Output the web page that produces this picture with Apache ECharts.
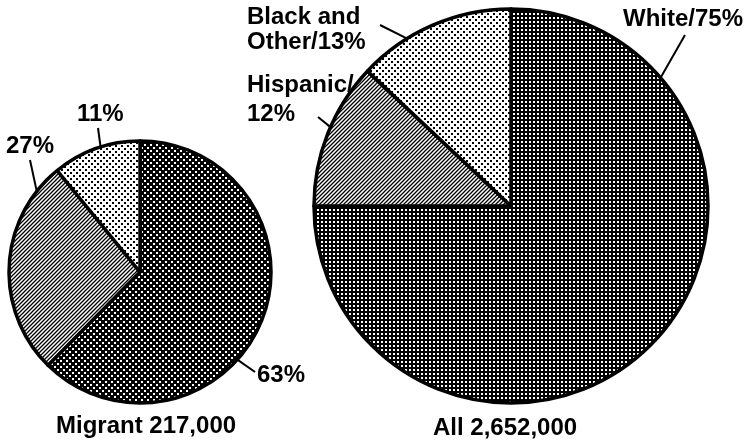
<!DOCTYPE html>
<html><head><meta charset="utf-8">
<script src="https://cdn.jsdelivr.net/npm/echarts@6/dist/echarts.min.js"></script>
<style>html,body{margin:0;padding:0;background:#fff}#c{width:748px;height:444px}</style>
</head><body><div id="c"></div>
<script>
// ---- data ----
const categories = ['White', 'Hispanic', 'Black and Other'];
const migrantValues = [63, 27, 11];
const allValues = [75, 12, 13];
const migrantLabels = ['63%', '27%', '11%'];
const allLabels = ['White/75%', 'Hispanic/\n12%', 'Black and\nOther/13%'];
const pieTitles = ['Migrant 217,000', 'All 2,652,000'];

// ---- layout ----
const PIES = [
  { cx: 140, cy: 272, r: 131 },
  { cx: 511, cy: 206, r: 197 }
];
// label left edge x, vertical middle y, line height, leader (arc angle clockwise from 12 o'clock, outer end offset)
const LABEL_POS = [
  [
    { x: 257, y: 375, lh: 24, angle: 132, dx: -2, dy: -3 },
    { x: 6, y: 146.5, lh: 24, angle: 308, dx: 24, dy: 13.5 },
    { x: 77, y: 114, lh: 24, angle: 342.5, dx: 21, dy: 14 }
  ],
  [
    { x: 623, y: 19, lh: 24, angle: 49.4, dx: 62, dy: 16 },
    { x: 247, y: 100, lh: 29.5, angle: 293.6, dx: 71, dy: 17 },
    { x: 247, y: 30, lh: 24.5, angle: 328.2, dx: 133, dy: -5 }
  ]
];
const TITLE_POS = [{ left: 56, top: 414 }, { left: 433, top: 416 }];
const FONT = { fontFamily: 'Liberation Sans, Arial, sans-serif', fontSize: 24, fontWeight: 'bold', color: '#000' };

// ---- patterns ----
function tile(w, h, draw) {
  const c = document.createElement('canvas'); c.width = w; c.height = h;
  draw(c.getContext('2d'), w, h); return c;
}
const darkLeft = tile(6, 6, g => { g.fillStyle = '#000'; g.fillRect(0, 0, 6, 6); g.fillStyle = '#fff'; g.fillRect(0, 0, 2, 2); g.fillRect(3, 3, 2, 2); });
const darkRight = tile(4, 4, g => { g.fillStyle = '#000'; g.fillRect(0, 0, 4, 4); g.fillStyle = '#fff'; g.fillRect(1, 1, 2, 2); });
const hatch = tile(4, 4, g => {
  g.fillStyle = '#fff'; g.fillRect(0, 0, 4, 4); g.strokeStyle = '#000'; g.lineWidth = 1.3;
  g.beginPath(); g.moveTo(-1, 5); g.lineTo(5, -1); g.moveTo(-1, 1); g.lineTo(1, -1); g.moveTo(3, 5); g.lineTo(5, 3); g.stroke();
});
const light = tile(6, 6, g => { g.fillStyle = '#fff'; g.fillRect(0, 0, 6, 6); g.fillStyle = '#000'; g.fillRect(1, 1, 2, 2); g.fillRect(4, 4, 2, 2); });
const PATTERNS = [[darkLeft, hatch, light], [darkRight, hatch, light]];

function buildSeries(idx, values, labels) {
  const p = PIES[idx];
  return {
    type: 'pie', center: [p.cx, p.cy], radius: p.r, startAngle: 90, clockwise: true,
    avoidLabelOverlap: false, silent: true, animation: false,
    itemStyle: { borderColor: '#000', borderWidth: 3.5 },
    label: Object.assign({ show: true, position: 'outside' }, FONT),
    labelLine: { show: true, length: 10, length2: 0, lineStyle: { color: '#000', width: 2 } },
    emphasis: { disabled: true },
    labelLayout: function (params) {
      const lp = LABEL_POS[idx][params.dataIndex];
      const a = lp.angle * Math.PI / 180;
      const ax = p.cx + p.r * Math.sin(a), ay = p.cy - p.r * Math.cos(a);
      return {
        x: lp.x, y: lp.y, align: 'left', verticalAlign: 'middle',
        labelLinePoints: [[ax, ay], [lp.x + lp.dx, lp.y + lp.dy]]
      };
    },
    data: values.map((v, i) => ({
      name: categories[i], value: v,
      itemStyle: { color: { image: PATTERNS[idx][i], repeat: 'repeat' } },
      label: { formatter: labels[i], lineHeight: LABEL_POS[idx][i].lh }
    }))
  };
}

const chart = echarts.init(document.getElementById('c'), null, { renderer: 'canvas' });
chart.setOption({
  animation: false,
  backgroundColor: '#fff',
  title: pieTitles.map((t, i) => ({
    text: t, left: TITLE_POS[i].left, top: TITLE_POS[i].top, padding: 0,
    textStyle: FONT
  })),
  series: [buildSeries(0, migrantValues, migrantLabels), buildSeries(1, allValues, allLabels)]
});
</script></body></html>
